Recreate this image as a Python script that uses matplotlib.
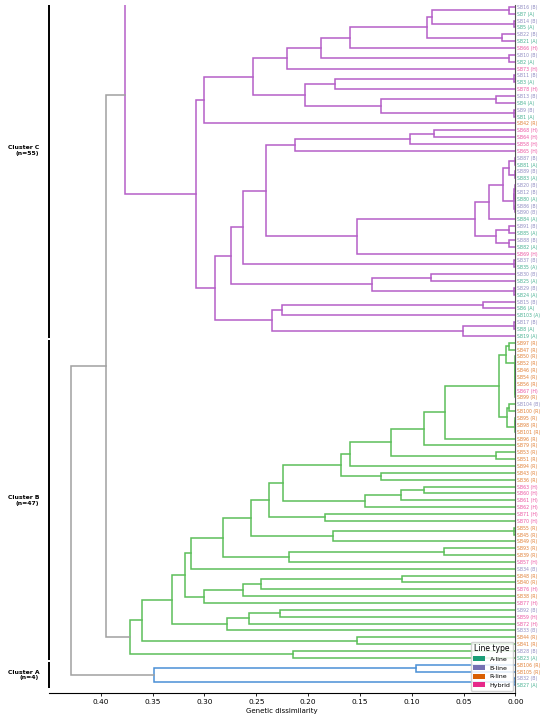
import matplotlib
matplotlib.use("Agg")
import matplotlib.pyplot as plt
from matplotlib.patches import Patch
from matplotlib.transforms import blended_transform_factory

# 叶子顺序（自上而下）和品系类型
leaves = ["SB16", "SB7", "SB14", "SB5", "SB22", "SB21", "SB66", "SB10", "SB2", "SB73",
          "SB11", "SB3", "SB78", "SB13", "SB4", "SB9", "SB1", "SB42", "SB68", "SB64",
          "SB58", "SB65", "SB87", "SB81", "SB89", "SB83", "SB20", "SB12", "SB80", "SB86",
          "SB90", "SB84", "SB91", "SB85", "SB88", "SB82", "SB69", "SB37", "SB35", "SB30",
          "SB25", "SB29", "SB24", "SB15", "SB6", "SB103", "SB17", "SB8", "SB19",
          "SB97", "SB47", "SB50", "SB52", "SB46", "SB54", "SB56", "SB67", "SB99", "SB104",
          "SB100", "SB95", "SB98", "SB101", "SB96", "SB79", "SB53", "SB51", "SB94", "SB43",
          "SB36", "SB63", "SB60", "SB61", "SB62", "SB71", "SB70", "SB55", "SB45", "SB49",
          "SB93", "SB39", "SB57", "SB34", "SB48", "SB40", "SB76", "SB38", "SB77", "SB92",
          "SB59", "SB72", "SB33", "SB44", "SB41", "SB28", "SB23",
          "SB106", "SB105", "SB32", "SB27"]
line_types = ["B", "A", "B", "A", "B", "A", "H", "B", "A", "H",
              "B", "A", "H", "B", "A", "B", "A", "R", "H", "H",
              "H", "H", "B", "A", "B", "A", "B", "B", "A", "B",
              "B", "A", "B", "A", "B", "A", "H", "B", "A", "B",
              "A", "B", "A", "B", "A", "A", "B", "A", "A",
              "R", "R", "R", "R", "R", "R", "R", "H", "R", "B",
              "R", "R", "R", "R", "R", "R", "R", "R", "R", "R",
              "R", "H", "H", "H", "H", "H", "H", "R", "R", "R",
              "R", "R", "H", "B", "R", "R", "H", "R", "H", "B",
              "H", "H", "B", "R", "R", "B", "A",
              "R", "R", "B", "A"]

# 合并表: (节点, 左, 右, 遗传距离)
merges_c = [
    ("c1", "SB16", "SB7", 0.006), ("c2", "SB14", "SB5", 0.001), ("c3", "c1", "c2", 0.080),
    ("c4", "SB22", "SB21", 0.013), ("c5", "c3", "c4", 0.085), ("c6", "c5", "SB66", 0.160),
    ("c7", "SB10", "SB2", 0.0065), ("c8", "c6", "c7", 0.188), ("c9", "c8", "SB73", 0.220),
    ("c10", "SB11", "SB3", 0.001), ("c11", "c10", "SB78", 0.174), ("c12", "SB13", "SB4", 0.019),
    ("c13", "SB9", "SB1", 0.001), ("c14", "c12", "c13", 0.130), ("c15", "c11", "c14", 0.203),
    ("c16", "c9", "c15", 0.253), ("c17", "c16", "SB42", 0.300),
    ("c19", "SB68", "SB64", 0.0785), ("c20", "c19", "SB58", 0.102), ("c21", "c20", "SB65", 0.213),
    ("c22", "SB87", "SB81", 0.0005), ("c23", "SB89", "SB83", 0.0005), ("c24", "c22", "c23", 0.006),
    ("c25", "SB20", "SB12", 0.0005), ("c26", "c25", "SB80", 0.001), ("c27", "SB86", "SB90", 0.0008),
    ("c28", "c26", "c27", 0.0015), ("c29", "c24", "c28", 0.012), ("c30", "c29", "SB84", 0.0256),
    ("c31", "SB91", "SB85", 0.006), ("c32", "SB88", "SB82", 0.006), ("c33", "c31", "c32", 0.019),
    ("c34", "c30", "c33", 0.039), ("c35", "c34", "SB69", 0.1526), ("c36", "c21", "c35", 0.2406),
    ("c37", "SB37", "SB35", 0.001), ("c38", "c36", "c37", 0.2632), ("c39", "SB30", "SB25", 0.081),
    ("c40", "SB29", "SB24", 0.001), ("c41", "c39", "c40", 0.138), ("c42", "c38", "c41", 0.2744),
    ("c43", "SB15", "SB6", 0.0317), ("c44", "c43", "SB103", 0.2255), ("c45", "SB17", "SB8", 0.001),
    ("c46", "c45", "SB19", 0.0505), ("c47", "c44", "c46", 0.2352), ("c48", "c42", "c47", 0.290),
    ("c49", "c17", "c48", 0.3083), ("C", "c_hidden", "c49", 0.3766),
]
merges_b = [
    ("b1", "SB97", "SB47", 0.006), ("b2", "SB67", "SB99", 0.0), ("b3", "SB56", "b2", 0.0),
    ("b4", "SB54", "b3", 0.0), ("b5", "SB46", "b4", 0.0), ("b6", "SB52", "b5", 0.0),
    ("b7", "SB50", "b6", 0.0), ("b8", "b1", "b7", 0.0095), ("b9", "SB104", "SB100", 0.006),
    ("b10", "SB95", "SB98", 0.0), ("b11", "b10", "SB101", 0.0005), ("b12", "b9", "b11", 0.008),
    ("b13", "b8", "b12", 0.016), ("b14", "b13", "SB96", 0.068), ("b15", "b14", "SB79", 0.0885),
    ("b16", "SB53", "SB51", 0.019), ("b17", "b15", "b16", 0.1204), ("b18", "b17", "SB94", 0.1594),
    ("b19", "SB43", "SB36", 0.130), ("b20", "b18", "b19", 0.1687), ("b21", "SB63", "SB60", 0.088),
    ("b22", "b21", "SB61", 0.1107), ("b23", "b22", "SB62", 0.1449), ("b24", "b20", "b23", 0.2245),
    ("b25", "SB71", "SB70", 0.1835), ("b26", "b24", "b25", 0.2374), ("b27", "SB55", "SB45", 0.001),
    ("b28", "b27", "SB49", 0.1762), ("b29", "b26", "b28", 0.2551), ("b30", "SB93", "SB39", 0.0689),
    ("b31", "b30", "SB57", 0.2187), ("b32", "b29", "b31", 0.2826), ("b33", "b32", "SB34", 0.3128),
    ("b34", "SB48", "SB40", 0.1095), ("b35", "b34", "SB76", 0.2454), ("b36", "b35", "SB38", 0.2632),
    ("b37", "b36", "SB77", 0.3009), ("b38", "b33", "b37", 0.3186), ("b39", "SB92", "SB59", 0.2276),
    ("b40", "b39", "SB72", 0.2574), ("b41", "b40", "SB33", 0.278), ("b42", "b38", "b41", 0.331),
    ("b43", "SB44", "SB41", 0.1529), ("b44", "b42", "b43", 0.360), ("b45", "SB28", "SB23", 0.2145),
    ("B", "b44", "b45", 0.372),
]
merges_a = [("a1", "SB106", "SB105", 0.0955), ("a2", "SB32", "SB27", 0.001), ("A", "a1", "a2", 0.349)]
merges_top = [("BC", "C", "B", 0.395), ("root", "BC", "A", 0.429)]

# C簇上方被裁掉的6个样本（图中不可见）只保留其连接点
hidden_pos = {"c_hidden": -1.75}

clusters = ["Cluster C\n(n=55)", "Cluster B\n(n=47)", "Cluster A\n(n=4)"]
cluster_rows = [(-6, 48), (49, 95), (96, 99)]

type_names = {"A": "A-line", "B": "B-line", "R": "R-line", "H": "Hybrid"}
type_colors = {"A": "#1b9e77", "B": "#7570b3", "R": "#d95f02", "H": "#e7298a"}
branch_colors = {"C": "#b55fc8", "B": "#5cbf5a", "A": "#4a90d6", None: "#a0a0a0"}

fig = plt.figure(figsize=(5.5, 7.16), dpi=100)
ax = fig.add_axes([0.0891, 0.0321, 0.848, 0.961])

pos = {name: i for i, name in enumerate(leaves)}
pos.update(hidden_pos)
height = {name: 0.0 for name in pos}

# 每个节点所属的簇
owner = {}
for key, group in (("C", merges_c), ("B", merges_b), ("A", merges_a)):
    for node, _, _, _ in group:
        owner[node] = key

for node, left, right, h in merges_c + merges_b + merges_a + merges_top:
    yl, yr = pos[left], pos[right]
    hl, hr = height[left], height[right]
    col = branch_colors[owner.get(node)]
    ax.plot([hl, h, h, hr], [yl, yl, yr, yr], color=col, lw=1.1, solid_joinstyle="miter")
    pos[node] = (yl + yr) / 2
    height[node] = h

ax.set_xlim(0.45, 0.0)
ax.set_ylim(100.13, -0.29)
ax.set_xticks([0.40, 0.35, 0.30, 0.25, 0.20, 0.15, 0.10, 0.05, 0.00])
ax.set_xticklabels(["%.2f" % t for t in ax.get_xticks()])
ax.tick_params(axis="x", labelsize=5.3, length=2.5, width=0.6, pad=2)
ax.set_xlabel("Genetic dissimilarity", fontsize=5.0, labelpad=2)

ax.yaxis.tick_right()
ax.set_yticks(range(len(leaves)))
ax.set_yticklabels(["%s (%s)" % (n, t) for n, t in zip(leaves, line_types)], fontsize=3.3)
ax.tick_params(axis="y", length=0, pad=1.5)
for lab, t in zip(ax.get_yticklabels(), line_types):
    lab.set_color(type_colors[t])
    lab.set_alpha(0.8)

for s in ("top", "left"):
    ax.spines[s].set_visible(False)
ax.spines["right"].set_color("#555555")
ax.spines["right"].set_linewidth(0.8)
ax.spines["bottom"].set_linewidth(0.8)

# 簇的分界线和标注
trans = blended_transform_factory(ax.transAxes, ax.transData)
for text, (r0, r1) in zip(clusters, cluster_rows):
    y0 = max(r0 - 0.35, -0.29)
    y1 = min(r1 + 0.35, 100.13)
    ax.plot([0, 0], [y0, y1], color="black", lw=1.4, transform=trans, clip_on=False,
            solid_capstyle="butt")
    ax.text(-0.021, (r0 + r1) / 2, text, transform=trans, ha="right", va="center",
            fontsize=4.4, fontweight="bold", multialignment="right")

handles = [Patch(facecolor=type_colors[k], label=type_names[k]) for k in ["A", "B", "R", "H"]]
leg = ax.legend(handles=handles, title="Line type", loc="lower right", fontsize=4.5,
                title_fontsize=5.5, handlelength=1.8, handleheight=0.8, borderaxespad=0.4,
                framealpha=0.85, labelspacing=0.5)

fig.savefig("out.png", dpi=100)
